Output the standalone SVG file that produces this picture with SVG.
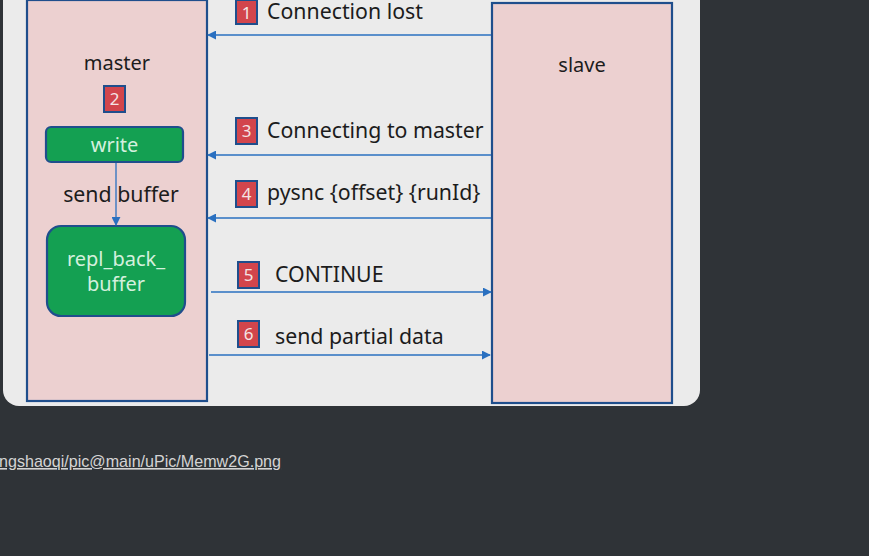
<svg xmlns="http://www.w3.org/2000/svg" width="869" height="556" viewBox="0 0 869 556">
<defs>
<style>
.lane{fill:#ecd0d0;stroke:#1f4e8c;stroke-width:2.2}
.badge{fill:#d2454c;stroke:#1f4e8c;stroke-width:2}
.bn{font-family:"Noto Sans","Open Sans",sans-serif;font-size:17px;fill:#f4e4e4;text-anchor:middle}
.lbl{font-family:"Noto Sans","Open Sans",sans-serif;font-size:20px;fill:#1c1c1c}
.step{font-family:"Noto Sans","Open Sans",sans-serif;font-size:21.3px;fill:#1c1c1c}
.box{fill:#14a052;stroke:#1f4e8c;stroke-width:2.2}
.bt{font-family:"Noto Sans","Open Sans",sans-serif;font-size:20px;fill:#d4f0de;text-anchor:middle}
.conn{stroke:#2a70c0;stroke-width:1.3;fill:none}
</style>
<marker id="ah" viewBox="0 0 10 10" refX="9" refY="5" markerWidth="9" markerHeight="9" markerUnits="userSpaceOnUse" orient="auto">
<path d="M0,0 L10,5 L0,10 z" fill="#2a70c0"/>
</marker>
</defs>
<rect x="0" y="0" width="869" height="556" fill="#2f3337"/>
<path d="M3,-10 H700 V390 A16,16 0 0 1 684,406 H19 A16,16 0 0 1 3,390 Z" fill="#ebebeb"/>
<g id="master">
<rect class="lane" x="27" y="0" width="180" height="401"/>
<text class="lbl" x="117" y="70" text-anchor="middle">master</text>
</g>
<g id="slave">
<rect class="lane" x="492" y="3" width="180" height="400"/>
<text class="lbl" x="582" y="72" text-anchor="middle">slave</text>
</g>
<g id="badge2">
<rect class="badge" x="104" y="86" width="21" height="26"/>
<text class="bn" x="114.5" y="105">2</text>
</g>
<g id="write">
<rect class="box" x="46" y="127" width="137" height="35" rx="5"/>
<text class="bt" x="114.5" y="152">write</text>
</g>
<g id="repl_back_buffer">
<rect class="box" x="47" y="226" width="138" height="90" rx="14"/>
<text class="bt" x="116" y="266">repl_back_</text>
<text class="bt" x="116" y="291">buffer</text>
</g>
<g id="connectors">
<line class="conn" x1="116" y1="163" x2="116" y2="225" marker-end="url(#ah)"/>
<line class="conn" x1="491" y1="35" x2="208" y2="35" marker-end="url(#ah)"/>
<line class="conn" x1="491" y1="155" x2="208" y2="155" marker-end="url(#ah)"/>
<line class="conn" x1="491" y1="218" x2="208" y2="218" marker-end="url(#ah)"/>
<line class="conn" x1="211" y1="292" x2="491" y2="292" marker-end="url(#ah)"/>
<line class="conn" x1="209" y1="355" x2="490" y2="355" marker-end="url(#ah)"/>
</g>
<text class="step" x="121" y="202" text-anchor="middle">send buffer</text>
<g id="step1">
<rect class="badge" x="236" y="0" width="21" height="24"/>
<text class="bn" x="246.5" y="19">1</text>
<text class="step" x="267" y="19">Connection lost</text>
</g>
<g id="step3">
<rect class="badge" x="236" y="118" width="21" height="26"/>
<text class="bn" x="246.5" y="137">3</text>
<text class="step" x="267" y="138">Connecting to master</text>
</g>
<g id="step4">
<rect class="badge" x="236" y="181" width="21" height="26"/>
<text class="bn" x="246.5" y="200">4</text>
<text class="step" x="267" y="200">pysnc {offset} {runId}</text>
</g>
<g id="step5">
<rect class="badge" x="238" y="262" width="21" height="26"/>
<text class="bn" x="248.5" y="281">5</text>
<text class="step" x="275" y="282">CONTINUE</text>
</g>
<g id="step6">
<rect class="badge" x="238" y="321" width="21" height="26"/>
<text class="bn" x="248.5" y="340">6</text>
<text class="step" x="275" y="344">send partial data</text>
</g>
<text x="-1" y="467" font-family="'Liberation Sans',Arial,sans-serif" font-size="16.1" fill="#d4d4d4" text-decoration="underline">ngshaoqi/pic@main/uPic/Memw2G.png</text>
</svg>
